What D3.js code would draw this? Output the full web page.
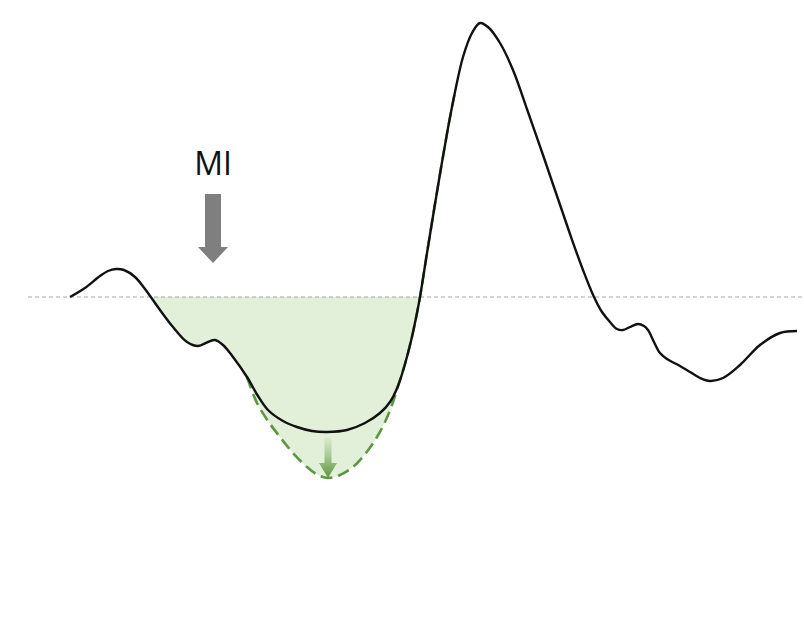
<!DOCTYPE html>
<html>
<head>
<meta charset="utf-8">
<script src="https://cdn.jsdelivr.net/npm/d3@7"></script>
<style>
  body { margin: 0; background: #fff; }
  svg { display: block; }
</style>
</head>
<body>
<script>
var width = 804;
var height = 636;

// traccia principale (tempo, ampiezza)
var waveT = [0, 15, 30, 38, 46, 54, 65, 75, 90, 103, 117, 128, 138, 145, 153, 163, 177, 188, 198, 213,
  227, 242, 257, 277, 295, 310, 320, 328, 335, 341, 346, 350, 357, 364, 371, 378, 385, 393, 402, 410,
  418, 430, 443, 458, 473, 487, 500, 513, 524, 532, 540, 547, 553, 560, 568, 574, 578, 584, 590, 597,
  610, 620, 630, 640, 653, 670, 690, 710, 727];
var waveV = [0, 9, 21, 26, 28, 27, 20, 8, -13, -30, -45, -49, -45, -43, -48, -60, -80, -99, -113, -124,
  -130, -134, -135, -133, -126, -116, -105, -89, -67, -44, -21, 0, 44, 87, 129, 169, 205, 240, 264, 274,
  270, 254, 227, 185, 142, 101, 63, 27, 0, -15, -25, -32, -33, -30, -27, -29, -33, -45, -56, -62,
  -69, -75, -81, -84, -81, -68, -48, -36, -34];

// curva tratteggiata (onda piu profonda)
var deepT = [177, 187, 198, 210, 223, 237, 248, 258, 270, 283, 296, 307, 315, 322, 328, 335, 341, 346, 350, 357, 364, 371, 378, 385];
var deepV = [-80, -106, -124, -140, -156, -170, -178, -181, -178, -170, -156, -140, -125, -108, -89, -67, -44, -21, 0, 44, 87, 129, 169, 205];

var fillStart = 82;   // dove la traccia scende sotto lo zero
var fillEnd = 350;

var miLabel = 'MI';
var miT = 143, miTextV = 122, miFromV = 103, miToV = 34;
var dropT = 258, dropFromV = -140, dropToV = -181;

var xRange = d3.scaleLinear().domain([0, 727]).range([70, 797]);
var yRange = d3.scaleLinear().domain([-200, 300]).range([497, -3]);

var wave = waveT.map(function (t, i) { return {t: t, v: waveV[i]}; });
var deep = deepT.map(function (t, i) { return {t: t, v: deepV[i]}; });

var svg = d3.select('body')
  .append('svg')
  .attr('width', width)
  .attr('height', height);

var defs = svg.append('defs');
var grad = defs.append('linearGradient')
  .attr('id', 'dropGrad')
  .attr('x1', 0).attr('y1', 0).attr('x2', 0).attr('y2', 1);
grad.append('stop').attr('offset', '0%').attr('stop-color', '#6fa84f').attr('stop-opacity', 0.05);
grad.append('stop').attr('offset', '100%').attr('stop-color', '#5b9640').attr('stop-opacity', 1);

var curve = d3.curveCatmullRom.alpha(0.5);

// area verde
var fillData = [{t: fillStart, v: 0}]
  .concat(wave.filter(function (d) { return d.t > fillStart && d.t < deepT[0]; }))
  .concat(deep.filter(function (d) { return d.t <= fillEnd; }));

svg.append('path')
  .datum(fillData)
  .attr('d', d3.area()
    .x(function (d) { return xRange(d.t); })
    .y0(yRange(0))
    .y1(function (d) { return yRange(d.v); })
    .curve(curve))
  .style('fill', '#e2efd9')
  .style('stroke', 'none');

// linea dello zero
svg.append('line')
  .attr('x1', 28).attr('x2', 802)
  .attr('y1', yRange(0)).attr('y2', yRange(0))
  .style('stroke', '#a6a6a6')
  .style('stroke-width', 1)
  .style('stroke-dasharray', '4,3');

// curva tratteggiata
svg.append('path')
  .datum(deep)
  .attr('d', d3.line()
    .x(function (d) { return xRange(d.t); })
    .y(function (d) { return yRange(d.v); })
    .curve(curve))
  .style('fill', 'none')
  .style('stroke', '#5e9741')
  .style('stroke-width', 2.6)
  .style('stroke-dasharray', '12,6');

// freccia verde
var dx = xRange(dropT);
var dy0 = yRange(dropFromV);
var dy1 = yRange(dropToV);
svg.append('path')
  .attr('d', 'M' + (dx - 3.5) + ',' + dy0 + 'V' + (dy1 - 15) + 'H' + (dx - 9) + 'L' + dx + ',' + dy1 +
    'L' + (dx + 9) + ',' + (dy1 - 15) + 'H' + (dx + 3.5) + 'V' + dy0 + 'Z')
  .style('fill', 'url(#dropGrad)');

// traccia principale
svg.append('path')
  .datum(wave)
  .attr('d', d3.line()
    .x(function (d) { return xRange(d.t); })
    .y(function (d) { return yRange(d.v); })
    .curve(curve))
  .style('fill', 'none')
  .style('stroke', '#111')
  .style('stroke-width', 2.4);

// freccia grigia e testo MI
var mx = xRange(miT);
var my0 = yRange(miFromV);
var my1 = yRange(miToV);
svg.append('path')
  .attr('d', 'M' + (mx - 8) + ',' + my0 + 'V' + (my1 - 16) + 'H' + (mx - 15) + 'L' + mx + ',' + my1 +
    'L' + (mx + 15) + ',' + (my1 - 16) + 'H' + (mx + 8) + 'V' + my0 + 'Z')
  .style('fill', '#7f7f7f');

svg.append('text')
  .attr('x', mx)
  .attr('y', yRange(miTextV))
  .attr('text-anchor', 'middle')
  .style('font-family', '"Open Sans", sans-serif')
  .style('font-size', '32px')
  .style('fill', '#111')
  .text(miLabel);
</script>
</body>
</html>
